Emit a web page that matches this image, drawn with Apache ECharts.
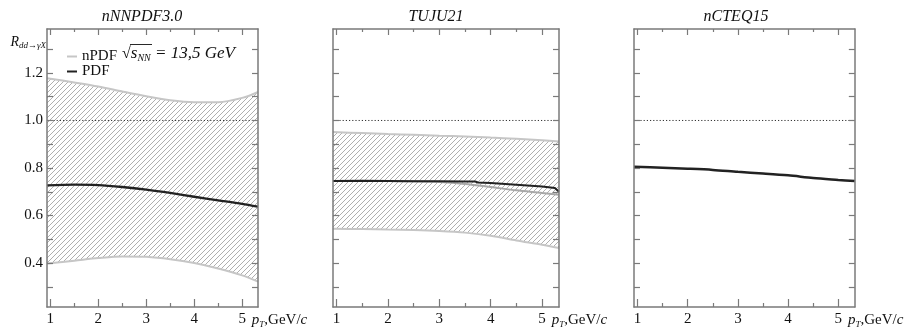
<!DOCTYPE html>
<html><head><meta charset="utf-8">
<script src="https://cdn.jsdelivr.net/npm/echarts@6/dist/echarts.min.js"></script>
<style>html,body{margin:0;padding:0;background:#fff}#c{width:906px;height:329px}</style>
</head><body><div id="c"></div>
<script>
// ---------- data ----------
const panelTitles = ['nNNPDF3.0', 'TUJU21', 'nCTEQ15'];
const xMajorTicks = [1, 2, 3, 4, 5];
const xMinorTicks = [1.5, 2.5, 3.5, 4.5];
const yTicks = [0.3, 0.4, 0.5, 0.6, 0.7, 0.8, 0.9, 1.0, 1.1, 1.2, 1.3];
const yLabels = [0.4, 0.6, 0.8, 1.0, 1.2];
const referenceValue = 1.0;
const X_MIN = 0.93, X_MAX = 5.33, Y_MIN = 0.215, Y_MAX = 1.385;

const commonX = [0.93, 1.5, 2.0, 2.5, 3.0, 3.5, 4.0, 4.5, 5.0, 5.33];

// nNNPDF3.0
const nnpdfUpper = [1.178, 1.160, 1.143, 1.122, 1.102, 1.085, 1.077, 1.077, 1.095, 1.120];
const nnpdfLower = [0.398, 0.410, 0.421, 0.428, 0.426, 0.416, 0.400, 0.377, 0.348, 0.322];
const nnpdfPdf   = [0.727, 0.730, 0.728, 0.720, 0.709, 0.695, 0.679, 0.664, 0.649, 0.637];

// TUJU21
const tujuUpper = [0.951, 0.947, 0.943, 0.940, 0.936, 0.933, 0.928, 0.923, 0.917, 0.912];
const tujuLower = [0.544, 0.543, 0.541, 0.539, 0.535, 0.528, 0.515, 0.495, 0.477, 0.463];
const tujuNpdf  = [0.745, 0.745, 0.745, 0.744, 0.741, 0.733, 0.720, 0.706, 0.695, 0.687];
const tujuPdfX  = [0.93, 1.5, 2.0, 2.5, 3.0, 3.5, 3.7, 3.75, 4.0, 4.5, 5.0, 5.25, 5.33];
const tujuPdf   = [0.745, 0.746, 0.745, 0.744, 0.744, 0.743, 0.743, 0.739, 0.737, 0.730, 0.722, 0.716, 0.700];

// nCTEQ15
const cteqPdf = [0.805, 0.801, 0.797, 0.792, 0.784, 0.777, 0.769, 0.758, 0.750, 0.745];

// ---------- styles ----------
const SERIF = '"Liberation Serif", "DejaVu Serif", serif';
const FRAME = '#7a7a7a';
const EDGE = '#c6c6c6';
const GREYLINE = '#a8a8a8';
const BLACK = '#222222';

function hatchPattern() {
  const s = 5, c = document.createElement('canvas');
  c.width = s; c.height = s;
  const g = c.getContext('2d');
  g.fillStyle = '#ffffff'; g.fillRect(0, 0, s, s);
  g.strokeStyle = '#a6a6a6'; g.lineWidth = 0.9;
  g.beginPath();
  for (let k = -1; k <= 1; k++) { g.moveTo(k * s, s); g.lineTo(k * s + s, 0); }
  g.stroke();
  return { image: c, repeat: 'repeat' };
}
const hatch = hatchPattern();

const zip = (xs, ys) => xs.map((x, i) => [x, ys[i]]);

const grids = [
  { left: 47, top: 29, width: 211, height: 280 },
  { left: 333, top: 29, width: 226, height: 280 },
  { left: 634, top: 29, width: 225, height: 280 }
];

const xName = '{p|p}{t|T}{u|,GeV/}{c|c}';
const xNameStyle = {
  align: 'left', verticalAlign: 'top', padding: [4, 0, 0, 0],
  rich: {
    p: { fontFamily: SERIF, fontStyle: 'italic', fontSize: 15, color: '#111', lineHeight: 18, verticalAlign: 'middle' },
    t: { fontFamily: SERIF, fontStyle: 'italic', fontSize: 9, color: '#111', lineHeight: 9, verticalAlign: 'bottom' },
    u: { fontFamily: SERIF, fontSize: 15, color: '#111', lineHeight: 18, verticalAlign: 'middle' },
    c: { fontFamily: SERIF, fontStyle: 'italic', fontSize: 15, color: '#111', lineHeight: 18, verticalAlign: 'middle' }
  }
};

function xAx(g, pos, line, ticks, len, labels) {
  const a = {
    type: 'value', gridIndex: g, position: pos, min: X_MIN, max: X_MAX, z: 10,
    axisLine: { show: line, onZero: false, lineStyle: { color: FRAME, width: 1.5 } },
    axisTick: { show: true, inside: true, length: len, customValues: ticks, lineStyle: { color: FRAME, width: 1.2 } },
    axisLabel: { show: false },
    splitLine: { show: false }
  };
  if (labels) {
    a.axisLabel = { show: true, customValues: ticks, formatter: v => String(v), margin: 5,
      color: '#111', fontFamily: SERIF, fontSize: 15 };
    a.name = xName; a.nameLocation = 'end'; a.nameGap = -9; a.nameTextStyle = xNameStyle;
  }
  return a;
}
function yAx(g, pos, labels) {
  const a = {
    type: 'value', gridIndex: g, position: pos, min: Y_MIN, max: Y_MAX, z: 10,
    axisLine: { show: true, onZero: false, lineStyle: { color: FRAME, width: 1.5 } },
    axisTick: { show: true, inside: true, length: 6, customValues: yTicks, lineStyle: { color: FRAME, width: 1.2 } },
    axisLabel: { show: false },
    splitLine: { show: false }
  };
  if (labels) {
    a.axisLabel = { show: true, customValues: yLabels, formatter: v => v.toFixed(1), margin: 4,
      color: '#111', fontFamily: SERIF, fontSize: 15 };
    a.name = '{r|R}{s|dd→γX}';
    a.nameLocation = 'end'; a.nameGap = -13;
    a.nameTextStyle = {
      align: 'right', verticalAlign: 'middle', padding: [0, 1, 0, 0],
      rich: {
        r: { fontFamily: SERIF, fontStyle: 'italic', fontSize: 14, color: '#111', lineHeight: 16, verticalAlign: 'middle' },
        s: { fontFamily: SERIF, fontStyle: 'italic', fontSize: 9, color: '#111', lineHeight: 9, verticalAlign: 'bottom' }
      }
    };
  }
  return a;
}

const xAxes = [], yAxes = [];
for (let i = 0; i < 3; i++) {
  xAxes.push(xAx(i, 'bottom', true, xMajorTicks, 8, true));
  xAxes.push(xAx(i, 'bottom', false, xMinorTicks, 4, false));
  xAxes.push(xAx(i, 'top', true, xMajorTicks, 6, false));
  xAxes.push(xAx(i, 'top', false, xMinorTicks, 3, false));
  yAxes.push(yAx(i, 'left', i === 0));
  yAxes.push(yAx(i, 'right', false));
}

const base = i => ({ type: 'line', xAxisIndex: 4 * i, yAxisIndex: 2 * i, showSymbol: false, symbol: 'none', silent: true, animation: false });

// band: hatched area under the upper edge, masked in white under the lower edge
function band(i, xs, lower, upper) {
  return [
    Object.assign(base(i), { name: 'nPDF band', smooth: 0.3, data: zip(xs, upper), color: EDGE,
      lineStyle: { color: EDGE, width: 2 }, areaStyle: { color: hatch, opacity: 1, origin: 'start' } }),
    Object.assign(base(i), { name: 'nPDF', smooth: 0.3, data: zip(xs, lower), color: EDGE,
      lineStyle: { color: EDGE, width: 2 }, areaStyle: { color: '#ffffff', opacity: 1, origin: 'start' } })
  ];
}
function refLine(i) {
  return Object.assign(base(i), { name: 'ref', data: [[X_MIN, referenceValue], [X_MAX, referenceValue]], color: BLACK,
    lineStyle: { color: '#333', width: 1, type: [1.2, 2] } });
}
function curve(i, name, xs, ys, color, width, smooth) {
  return Object.assign(base(i), { name: name, data: zip(xs, ys), color: color, smooth: smooth,
    lineStyle: { color: color, width: width } });
}

const series = [
  ...band(0, commonX, nnpdfLower, nnpdfUpper),
  refLine(0),
  curve(0, 'PDF', commonX, nnpdfPdf, BLACK, 2.3, 0.3),
  ...band(1, commonX, tujuLower, tujuUpper),
  refLine(1),
  curve(1, 'nPDF', commonX, tujuNpdf, GREYLINE, 2, 0.3),
  curve(1, 'PDF', tujuPdfX, tujuPdf, BLACK, 2, false),
  refLine(2),
  curve(2, 'PDF', commonX, cteqPdf, BLACK, 2.5, 0.3)
];

const titleCenters = [142, 436, 736];
const graphic = panelTitles.map((t, i) => ({
  type: 'text', x: titleCenters[i], y: 9, silent: true,
  style: { text: t, align: 'center', verticalAlign: 'top', fontFamily: SERIF, fontStyle: 'italic', fontSize: 16, fill: '#111' }
}));
graphic.push({
  type: 'text', x: 122, y: 54, silent: true,
  style: {
    text: '{r|√}{s|s}{n|NN}{e| = 13,5 GeV}', verticalAlign: 'middle', align: 'left',
    rich: {
      r: { fontFamily: SERIF, fontSize: 16, fill: '#111', lineHeight: 18, verticalAlign: 'middle' },
      s: { fontFamily: SERIF, fontStyle: 'italic', fontSize: 17, fill: '#111', lineHeight: 18, verticalAlign: 'middle' },
      n: { fontFamily: SERIF, fontStyle: 'italic', fontSize: 10, fill: '#111', lineHeight: 10, verticalAlign: 'bottom' },
      e: { fontFamily: SERIF, fontStyle: 'italic', fontSize: 17, fill: '#111', lineHeight: 18, verticalAlign: 'middle' }
    }
  }
});
// overline of the square root
graphic.push({
  type: 'line', silent: true,
  shape: { x1: 130, y1: 44.5, x2: 152, y2: 44.5 },
  style: { stroke: '#111', lineWidth: 0.9 }
});

const chart = echarts.init(document.getElementById('c'));
chart.setOption({
  animation: false,
  backgroundColor: '#fff',
  grid: grids,
  xAxis: xAxes,
  yAxis: yAxes,
  legend: {
    data: ['nPDF', 'PDF'], orient: 'vertical', left: 62, top: 44, itemGap: 0,
    itemWidth: 10, itemHeight: 2, icon: 'rect', selectedMode: false,
    textStyle: { fontFamily: SERIF, fontSize: 15, color: '#111' }
  },
  graphic: graphic,
  series: series
});
</script>
</body></html>
